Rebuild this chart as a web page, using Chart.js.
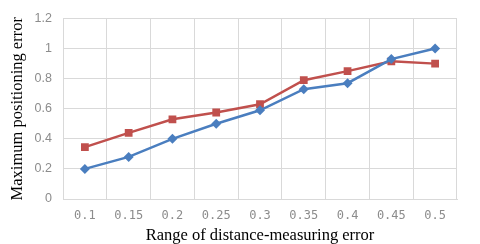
<!DOCTYPE html>
<html>
<head>
<meta charset="utf-8">
<script src="https://cdn.jsdelivr.net/npm/chart.js@4.4.1/dist/chart.umd.min.js"></script>
<style>
  html, body { margin: 0; padding: 0; background: #fff; }
  #wrap { width: 480px; height: 244px; position: relative; }
</style>
</head>
<body>
<div id="wrap"><canvas id="chart"></canvas></div>
<script>
// chart data
const categories = ['0.1', '0.15', '0.2', '0.25', '0.3', '0.35', '0.4', '0.45', '0.5'];
const blueValues = [0.20, 0.28, 0.40, 0.50, 0.59, 0.73, 0.77, 0.93, 1.00];
const redValues = [0.345, 0.44, 0.53, 0.575, 0.63, 0.79, 0.85, 0.915, 0.90];
const yTicks = [0, 0.2, 0.4, 0.6, 0.8, 1, 1.2];

const gridColor = '#d9d9d9';
const tickGrey = '#8c8c8c';

const ctx = document.getElementById('chart').getContext('2d');
const chart = new Chart(ctx, {
    type: 'line',
    data: {
        labels: categories,
        datasets: [{
            data: blueValues,
            borderColor: '#4a7ebf',
            backgroundColor: '#4a7ebf',
            borderWidth: 2.5,
            pointStyle: 'rectRot',
            pointRadius: 5,
            pointBorderWidth: 0
        }, {
            data: redValues,
            borderColor: '#c0504d',
            backgroundColor: '#c0504d',
            borderWidth: 2.5,
            pointStyle: 'rect',
            pointRadius: 5.5,
            pointBorderWidth: 0
        }]
    },
    options: {
        responsive: true,
        maintainAspectRatio: false,
        animation: false,
        layout: { padding: { top: 16, right: 23, left: 0, bottom: 0 } },
        plugins: {
            legend: { display: false },
            tooltip: { enabled: false }
        },
        scales: {
            x: {
                offset: true,
                grid: { color: gridColor, offset: true, drawTicks: false },
                border: { color: gridColor },
                ticks: {
                    color: tickGrey,
                    padding: 10,
                    font: { family: 'DejaVu Sans Mono', size: 12 },
                    maxRotation: 0
                },
                title: {
                    display: true,
                    text: 'Range of distance-measuring error',
                    color: '#000',
                    font: { family: 'Liberation Serif', size: 16.5, lineHeight: 1 },
                    padding: { top: 5, bottom: 0 }
                },
                afterFit: (s) => { s.height = 45; }
            },
            y: {
                min: 0,
                max: 1.2,
                afterBuildTicks: (s) => { s.ticks = yTicks.map(v => ({ value: v })); },
                grid: { color: gridColor, drawTicks: false },
                border: { color: gridColor },
                ticks: {
                    color: tickGrey,
                    padding: 11,
                    font: { family: 'Liberation Sans', size: 12.5 },
                    callback: (v) => String(Math.round(v * 10) / 10)
                },
                title: {
                    display: true,
                    text: 'Maximum positioning error',
                    color: '#000',
                    font: { family: 'Liberation Serif', size: 16.5 },
                    padding: { top: 8, bottom: 0 }
                },
                afterFit: (s) => { s.width = 63; }
            }
        }
    }
});
</script>
</body>
</html>
